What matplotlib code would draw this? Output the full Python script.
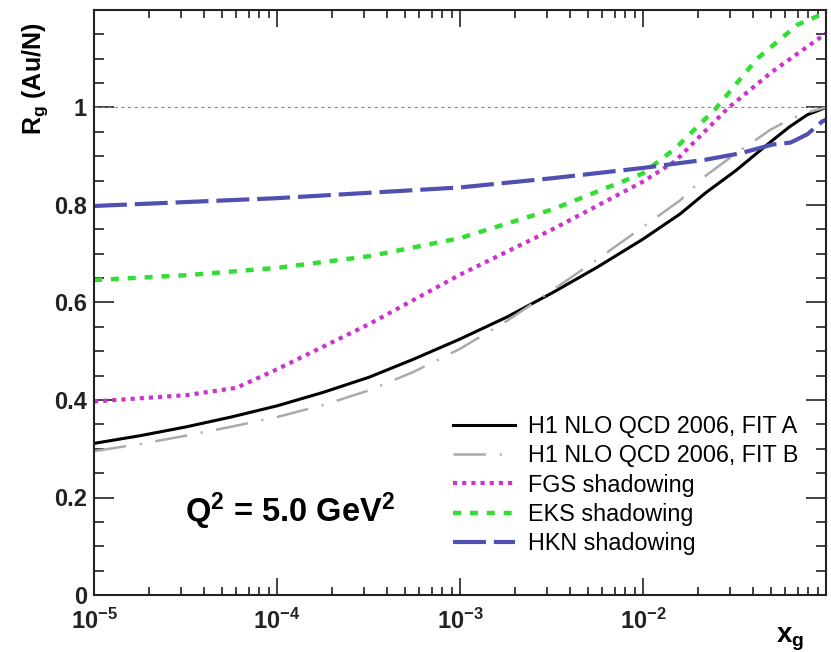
import numpy as np
import matplotlib
matplotlib.use('Agg')
import matplotlib.pyplot as plt
from matplotlib.ticker import LogLocator, MultipleLocator, NullFormatter

# R_g(Au/N) gluon shadowing ratio at Q^2 = 5 GeV^2
# values

FITA_X = [1e-5, 1.8e-5, 3.2e-5, 5.6e-5, 1e-4, 1.8e-4, 3.2e-4, 5.6e-4, 1e-3, 1.8e-3, 3.2e-3, 5.6e-3,
          1e-2, 1.6e-2, 2.2e-2, 3.2e-2, 5e-2, 6.3e-2, 7.9e-2, 1e-1]
FITA_Y = [0.311, 0.327, 0.345, 0.365, 0.388, 0.416, 0.447, 0.484, 0.525, 0.570, 0.620, 0.672,
          0.730, 0.782, 0.825, 0.870, 0.930, 0.960, 0.985, 1.000]

FITB_X = [1e-5, 1.8e-5, 3.2e-5, 5.6e-5, 1e-4, 1.8e-4, 3.2e-4, 5.6e-4, 1e-3, 1.8e-3, 3.2e-3, 5.6e-3,
          1e-2, 1.6e-2, 2.2e-2, 3.2e-2, 5e-2, 6.3e-2, 7.9e-2, 1e-1]
FITB_Y = [0.295, 0.310, 0.327, 0.345, 0.365, 0.390, 0.420, 0.458, 0.505, 0.562, 0.625, 0.688,
          0.755, 0.810, 0.860, 0.905, 0.955, 0.975, 0.990, 1.000]

FGS_X = [1e-5, 3.2e-5, 6e-5, 1e-4, 3.2e-4, 1e-3, 3.2e-3, 1e-2, 1.5e-2, 2.9e-2, 5.1e-2, 1e-1]
FGS_Y = [0.397, 0.410, 0.425, 0.463, 0.556, 0.657, 0.750, 0.848, 0.890, 0.998, 1.074, 1.152]

EKS_X = [1e-5, 3.2e-5, 1e-4, 3.2e-4, 1e-3, 3.2e-3, 1e-2, 1.5e-2, 2.5e-2, 4.2e-2, 7e-2, 1e-1]
EKS_Y = [0.646, 0.656, 0.671, 0.695, 0.732, 0.791, 0.865, 0.916, 0.998, 1.100, 1.170, 1.195]

HKN_X = [1e-5, 1e-4, 1e-3, 3.2e-3, 1e-2, 2.2e-2, 3.4e-2, 5.1e-2, 6.4e-2, 7.9e-2, 9.5e-2, 1e-1]
HKN_Y = [0.798, 0.814, 0.836, 0.855, 0.876, 0.893, 0.906, 0.924, 0.928, 0.945, 0.971, 0.975]

UNITY = 1.0
XTICKS = [1e-5, 1e-4, 1e-3, 1e-2]
XTICKLABELS = [r'$\mathbf{10^{-5}}$', r'$\mathbf{10^{-4}}$', r'$\mathbf{10^{-3}}$', r'$\mathbf{10^{-2}}$']
YTICKS = [0, 0.2, 0.4, 0.6, 0.8, 1.0]
YTICKLABELS = ['0', '0.2', '0.4', '0.6', '0.8', '1']

plt.rcParams['font.family'] = 'Liberation Sans'
plt.rcParams['mathtext.fontset'] = 'custom'
plt.rcParams['mathtext.rm'] = 'Liberation Sans'
plt.rcParams['mathtext.it'] = 'Liberation Sans:italic'
plt.rcParams['mathtext.bf'] = 'Liberation Sans:bold'

fig = plt.figure(figsize=(8.31, 6.52), dpi=100)
ax = fig.add_axes([94/831, 1 - 595/652, 732/831, 585/652])

ax.axhline(UNITY, color='#888888', linestyle=(0, (3, 3)), linewidth=0.8)

ax.plot(FITA_X, FITA_Y, color='black', linewidth=2.2, label='H1 NLO QCD 2006, FIT A')
ax.plot(FITB_X, FITB_Y, color='#aaaaaa', linewidth=1.8, linestyle=(0, (13, 5.5, 0.8, 5.5)),
        label='H1 NLO QCD 2006, FIT B')
ax.plot(FGS_X, FGS_Y, color='#cc33cc', linewidth=3, linestyle=(0, (1, 1.2)), label='FGS shadowing')
ax.plot(EKS_X, EKS_Y, color='#33dd33', linewidth=3.2, linestyle=(0, (1.8, 2.0)), label='EKS shadowing')
ax.plot(HKN_X, HKN_Y, color='#5050b0', linewidth=3, linestyle=(0, (7.9, 1.9)), label='HKN shadowing')

ax.set_xscale('log')
ax.set_xlim(1e-5, 1e-1)
ax.set_ylim(0, 1.2)

ax.set_xticks(XTICKS)
ax.set_xticklabels(XTICKLABELS)
ax.xaxis.set_minor_locator(LogLocator(base=10, subs=np.arange(2, 10)))
ax.xaxis.set_minor_formatter(NullFormatter())
ax.set_yticks(YTICKS)
ax.set_yticklabels(YTICKLABELS, fontweight='bold')
ax.yaxis.set_minor_locator(MultipleLocator(0.05))

ax.tick_params(which='both', direction='in', top=True, right=True, width=1.2, colors='#222222')
ax.tick_params(axis='x', which='major', length=12, pad=10, labelsize=17)
ax.tick_params(axis='x', which='minor', length=6)
ax.tick_params(axis='y', which='major', length=14.5, pad=5, labelsize=17)
ax.tick_params(axis='y', which='minor', length=7.2)
for sp in ax.spines.values():
    sp.set_linewidth(1.5)
    sp.set_color('#222222')

ax.set_xlabel(r'$\mathbf{x_g}$', fontsize=20)
ax.xaxis.set_label_coords(0.951, -0.053)
ax.set_ylabel(r'R$_\mathbf{g}$ (Au/N)', fontsize=18, fontweight='bold')
ax.yaxis.set_label_coords(-0.06, 0.882)

ax.text(0.124, 0.125, r'Q$^\mathbf{2}$ = 5.0 GeV$^\mathbf{2}$', fontsize=23.5, fontweight='bold',
        transform=ax.transAxes, ha='left', va='baseline')

ax.legend(loc='upper left', bbox_to_anchor=(453/831, 1 - 415/652), bbox_transform=fig.transFigure,
          frameon=False, fontsize=16.8, handlelength=2.65, handletextpad=0.56, labelspacing=0.27,
          borderpad=0, borderaxespad=0)

fig.savefig('out.png', dpi=100)
